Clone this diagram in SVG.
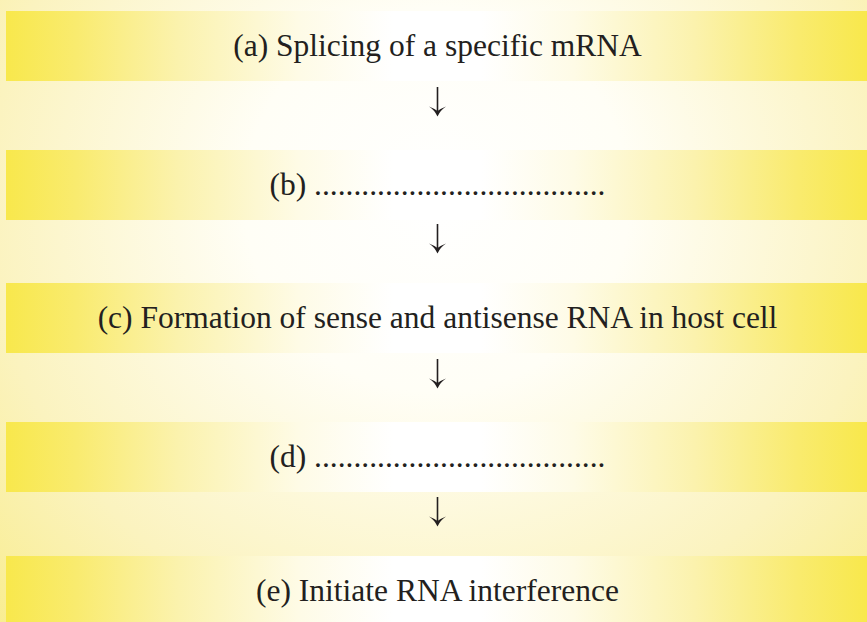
<svg xmlns="http://www.w3.org/2000/svg" width="867" height="622" viewBox="0 0 867 622">
  <defs>
    <radialGradient id="bg" gradientUnits="userSpaceOnUse" cx="437" cy="200" r="640">
      <stop offset="0" stop-color="#ffffff"/>
      <stop offset="0.3" stop-color="#fffef6"/>
      <stop offset="0.7" stop-color="#fbf3bf"/>
      <stop offset="1" stop-color="#f8ec88"/>
    </radialGradient>
    <linearGradient id="band" gradientUnits="userSpaceOnUse" x1="6" y1="0" x2="867" y2="0">
      <stop offset="0" stop-color="#f8e84c"/>
      <stop offset="0.08" stop-color="#f9eb6e"/>
      <stop offset="0.2" stop-color="#fbf2ad"/>
      <stop offset="0.34" stop-color="#fefbe6"/>
      <stop offset="0.45" stop-color="#ffffff"/>
      <stop offset="0.55" stop-color="#ffffff"/>
      <stop offset="0.66" stop-color="#fefbe6"/>
      <stop offset="0.8" stop-color="#fbf2ad"/>
      <stop offset="0.92" stop-color="#f9eb6e"/>
      <stop offset="1" stop-color="#f8e84c"/>
    </linearGradient>
  </defs>
  <style>
    .band { fill: url(#band); }
    .lbl { font-family: "Liberation Serif", "Times New Roman", serif; font-size: 31.5px; fill: #231f20; text-anchor: middle; }
    .shaft { stroke: #231f20; stroke-width: 1.6; fill: none; }
    .head { fill: #231f20; stroke: none; }
  </style>
  <rect x="0" y="0" width="867" height="622" fill="url(#bg)"/>

  <g id="node-a">
    <rect class="band" x="6" y="11" width="861" height="70"/>
    <text class="lbl" x="437.5" y="56">(a) Splicing of a specific mRNA</text>
  </g>
  <g id="node-b">
    <rect class="band" x="6" y="150" width="861" height="70"/>
    <text class="lbl" x="437.5" y="195">(b) .....................................</text>
  </g>
  <g id="node-c">
    <rect class="band" x="6" y="283" width="861" height="70"/>
    <text class="lbl" x="437.5" y="328">(c) Formation of sense and antisense RNA in host cell</text>
  </g>
  <g id="node-d">
    <rect class="band" x="6" y="422" width="861" height="70"/>
    <text class="lbl" x="437.5" y="467">(d) .....................................</text>
  </g>
  <g id="node-e">
    <rect class="band" x="6" y="556" width="861" height="66"/>
    <text class="lbl" x="437.5" y="601">(e) Initiate RNA interference</text>
  </g>

  <g id="connectors">
    <g transform="translate(0,0)">
      <line class="shaft" x1="437.5" y1="87" x2="437.5" y2="113"/>
      <path class="head" d="M429,106.5 Q434.5,110 437.5,116.5 Q440.5,110 446,106.5 Q441,108.5 437.5,111 Q434,108.5 429,106.5 Z"/>
    </g>
    <g transform="translate(0,137)">
      <line class="shaft" x1="437.5" y1="87" x2="437.5" y2="113"/>
      <path class="head" d="M429,106.5 Q434.5,110 437.5,116.5 Q440.5,110 446,106.5 Q441,108.5 437.5,111 Q434,108.5 429,106.5 Z"/>
    </g>
    <g transform="translate(0,272)">
      <line class="shaft" x1="437.5" y1="87" x2="437.5" y2="113"/>
      <path class="head" d="M429,106.5 Q434.5,110 437.5,116.5 Q440.5,110 446,106.5 Q441,108.5 437.5,111 Q434,108.5 429,106.5 Z"/>
    </g>
    <g transform="translate(0,410)">
      <line class="shaft" x1="437.5" y1="87" x2="437.5" y2="113"/>
      <path class="head" d="M429,106.5 Q434.5,110 437.5,116.5 Q440.5,110 446,106.5 Q441,108.5 437.5,111 Q434,108.5 429,106.5 Z"/>
    </g>
  </g>
</svg>
